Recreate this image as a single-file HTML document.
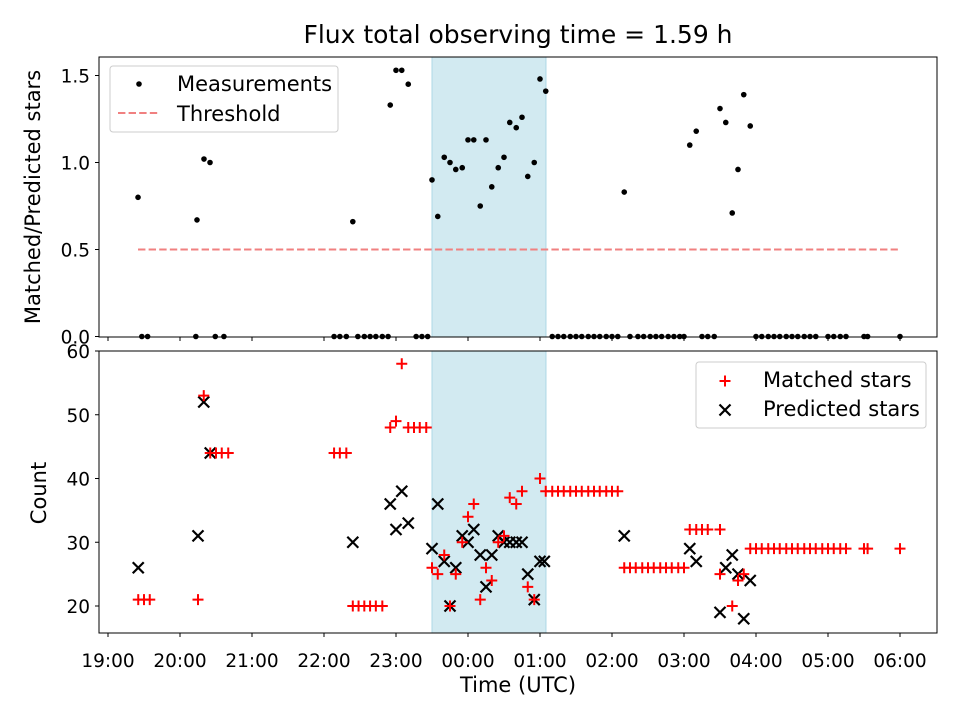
<!DOCTYPE html>
<html><head><meta charset="utf-8"><style>
body{margin:0;background:#fff}
svg{display:block;font-family:"DejaVu Sans","Liberation Sans",sans-serif}
</style></head><body>
<svg id="fig" width="960" height="720" xmlns="http://www.w3.org/2000/svg"></svg>
<script>
// hours since 19:00 UTC
const measTimes=[0.417,1.236,1.333,1.417,3.40,3.92,4.0,4.08,4.17,4.5,4.58,4.67,4.75,4.83,4.92,5.0,5.08,5.17,5.25,5.33,5.42,5.5,5.58,5.67,5.75,5.83,5.92,6.0,6.08,7.17,8.08,8.17,8.5,8.58,8.67,8.75,8.83,8.92];
const measValues=[0.80,0.67,1.02,1.00,0.66,1.33,1.53,1.53,1.45,0.90,0.69,1.03,1.00,0.96,0.97,1.13,1.13,0.75,1.13,0.86,0.97,1.03,1.23,1.20,1.26,0.92,1.00,1.48,1.41,0.83,1.10,1.18,1.31,1.23,0.71,0.96,1.39,1.21];
const zeroTimes=[0.47,0.55,1.22,1.49,1.61,3.14,3.22,3.31,3.47,3.56,3.64,3.72,3.81,3.89,4.28,4.36,4.44,6.17,6.25,6.33,6.42,6.5,6.58,6.67,6.75,6.83,6.92,7.0,7.08,7.25,7.36,7.44,7.53,7.61,7.69,7.78,7.86,7.94,8.0,8.25,8.33,8.42,9.0,9.08,9.17,9.25,9.33,9.42,9.5,9.58,9.67,9.75,9.83,10.0,10.08,10.17,10.25,10.5,10.55,11.0];
const threshold=0.5, thrStart=0.417, thrEnd=10.97;
const shadeStart=4.5, shadeEnd=6.083;
const matchedTimes=[0.42,0.5,0.58,1.25,1.33,1.42,1.5,1.58,1.67,3.14,3.22,3.31,3.4,3.48,3.56,3.64,3.72,3.81,3.92,4.0,4.08,4.17,4.25,4.33,4.42,
4.5,4.58,4.67,4.75,4.83,4.92,5.0,5.08,5.17,5.25,5.33,5.42,5.5,5.58,5.67,5.75,5.83,5.92,6.0,6.08,
6.17,6.25,6.33,6.42,6.5,6.58,6.67,6.75,6.83,6.92,7.0,7.08,
7.17,7.25,7.33,7.42,7.5,7.58,7.67,7.75,7.83,7.92,8.0,
8.08,8.17,8.25,8.33,8.5,8.5,8.67,8.75,8.83,
8.92,9.0,9.08,9.17,9.25,9.33,9.42,9.5,9.58,9.67,9.75,9.83,9.92,10.0,10.08,10.17,10.25,10.5,10.55,11.0];
const matchedValues=[21,21,21,21,53,44,44,44,44,44,44,44,20,20,20,20,20,20,48,49,58,48,48,48,48,
26,25,28,20,25,30,34,36,21,26,24,30,31,37,36,38,23,21,40,38,
38,38,38,38,38,38,38,38,38,38,38,38,
26,26,26,26,26,26,26,26,26,26,26,
32,32,32,32,32,25,20,24,25,
29,29,29,29,29,29,29,29,29,29,29,29,29,29,29,29,29,29,29,29];
const predTimes=[0.42,1.25,1.33,1.42,3.4,3.92,4.0,4.08,4.17,4.5,4.58,4.67,4.75,4.83,4.92,5.0,5.08,5.17,5.25,5.33,5.42,5.5,5.58,5.67,5.75,5.83,5.92,6.0,6.06,7.17,8.08,8.17,8.5,8.58,8.67,8.75,8.83,8.92];
const predValues=[26,31,52,44,30,36,32,38,33,29,36,27,20,26,31,30,32,28,23,28,31,30,30,30,30,25,21,27,27,31,29,27,19,26,28,25,18,24];
const xTicks=[0,1,2,3,4,5,6,7,8,9,10,11];
const xTickLabels=["19:00","20:00","21:00","22:00","23:00","00:00","01:00","02:00","03:00","04:00","05:00","06:00"];
const topYTicks=[0,0.5,1.0,1.5], topYLabels=["0.0","0.5","1.0","1.5"];
const botYTicks=[20,30,40,50,60];

const NS="http://www.w3.org/2000/svg", svg=document.getElementById('fig');
function el(t,a,p){const e=document.createElementNS(NS,t);for(const k in a)e.setAttribute(k,a[k]);(p||svg).appendChild(e);return e;}
const L=99,R=937;
const xS=h=>108+72*h;
const T={t:57,b:337}, B={t:351,b:633};
const yT=v=>336.5-174*v;
const yB=v=>351+(60-v)*6.375;
const TF='18.5', LF='21';

let t=el('text',{x:518,y:43,'text-anchor':'middle','font-size':'25'});t.textContent='Flux total observing time = 1.59 h';


function panel(P,name){
  const g=el('g',{});
  const r=el('rect',{x:xS(shadeStart),y:P.t,width:xS(shadeEnd)-xS(shadeStart),height:P.b-P.t,fill:'#add8e6','fill-opacity':0.55,stroke:'#add8e6'},g);
  
  return g;
}
// TOP
const gT=panel(T,'ratio-panel');
const thr=el('line',{x1:xS(thrStart),x2:xS(thrEnd),y1:yT(threshold),y2:yT(threshold),stroke:'#f08080','stroke-width':2,'stroke-dasharray':'7.4,3.2'},gT);

const gm=el('g',{},gT);

measTimes.forEach((h,i)=>{el('circle',{cx:xS(h),cy:yT(measValues[i]),r:2.8,fill:'#000'},gm);});
zeroTimes.forEach(h=>{el('circle',{cx:xS(h),cy:yT(0),r:2.8,fill:'#000'},gm);});
const fT=el('rect',{x:L,y:T.t,width:R-L,height:T.b-T.t,fill:'none',stroke:'#000','stroke-width':1},gT);

topYTicks.forEach((v,i)=>{el('line',{x1:L-4,x2:L,y1:yT(v),y2:yT(v),stroke:'#000'},gT);
  const tx=el('text',{x:L-9,y:yT(v)+7,'text-anchor':'end','font-size':TF},gT);tx.textContent=topYLabels[i];
  });
xTicks.forEach(h=>el('line',{x1:xS(h),x2:xS(h),y1:T.b,y2:T.b+4,stroke:'#000'},gT));
let yl=el('text',{x:40,y:197,'text-anchor':'middle','font-size':LF,transform:'rotate(-90 40 197)'},gT);yl.textContent='Matched/Predicted stars';

const lg=el('g',{},gT);
el('rect',{x:110,y:66,width:228,height:66,rx:3,fill:'#fff','fill-opacity':0.8,stroke:'#ccc'},lg);
el('circle',{cx:139,cy:84,r:2.8,fill:'#000'},lg);
let lt=el('text',{x:177,y:91,'font-size':LF},lg);lt.textContent='Measurements';
el('line',{x1:118,x2:160,y1:113,y2:113,stroke:'#f08080','stroke-width':2,'stroke-dasharray':'7.4,3.2'},lg);
lt=el('text',{x:177,y:121,'font-size':LF},lg);lt.textContent='Threshold';

// BOTTOM
const gB=panel(B,'count-panel');
const gp=el('g',{},gB);
const gmm=el('g',{},gB);
function plus(x,y,p){el('path',{d:`M${x-5.5},${y}H${x+5.5}M${x},${y-5.5}V${y+5.5}`,stroke:'#f00','stroke-width':2},p);}
function cross(x,y,p){el('path',{d:`M${x-5.5},${y-5.5}L${x+5.5},${y+5.5}M${x-5.5},${y+5.5}L${x+5.5},${y-5.5}`,stroke:'#000','stroke-width':2.2},p);}
matchedTimes.forEach((h,i)=>plus(xS(h),yB(matchedValues[i]),gmm));
predTimes.forEach((h,i)=>cross(xS(h),yB(predValues[i]),gp));
const fB=el('rect',{x:L,y:B.t,width:R-L,height:B.b-B.t,fill:'none',stroke:'#000','stroke-width':1},gB);

botYTicks.forEach(v=>{el('line',{x1:L-4,x2:L,y1:yB(v),y2:yB(v),stroke:'#000'},gB);
  const tx=el('text',{x:L-9,y:yB(v)+7,'text-anchor':'end','font-size':TF},gB);tx.textContent=String(v);
  });
xTicks.forEach((h,i)=>{el('line',{x1:xS(h),x2:xS(h),y1:B.b,y2:B.b+4,stroke:'#000'},gB);
  const tx=el('text',{x:xS(h),y:667,'text-anchor':'middle','font-size':TF},gB);tx.textContent=xTickLabels[i];
  });
yl=el('text',{x:46,y:493,'text-anchor':'middle','font-size':LF,transform:'rotate(-90 46 493)'},gB);yl.textContent='Count';

let xl=el('text',{x:518,y:692,'text-anchor':'middle','font-size':LF},gB);xl.textContent='Time (UTC)';

const lb=el('g',{},gB);
el('rect',{x:696,y:362,width:230,height:66,rx:3,fill:'#fff','fill-opacity':0.8,stroke:'#ccc'},lb);
plus(725,381,lb);cross(725,410,lb);
lt=el('text',{x:763,y:387,'font-size':LF},lb);lt.textContent='Matched stars';
lt=el('text',{x:763,y:416,'font-size':LF},lb);lt.textContent='Predicted stars';
</script>
</body></html>
